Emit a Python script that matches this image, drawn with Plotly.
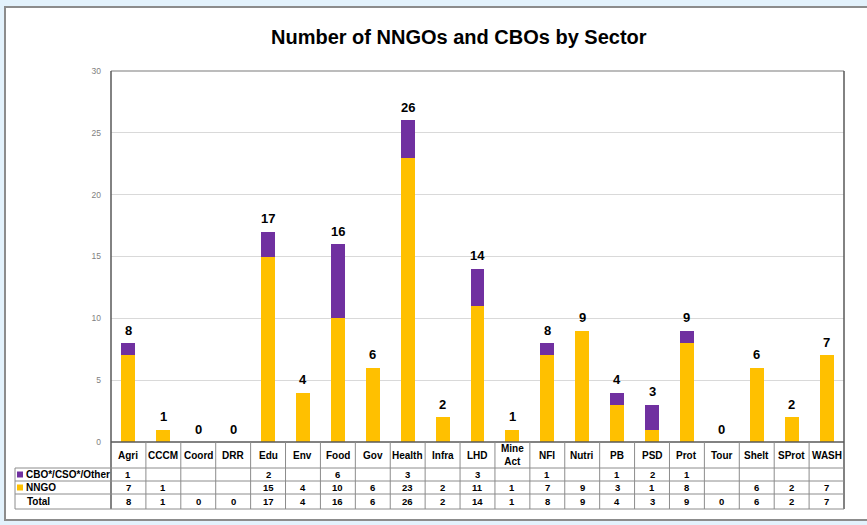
import plotly.graph_objects as go

categories = ["Agri", "CCCM", "Coord", "DRR", "Edu", "Env", "Food", "Gov", "Health", "Infra",
              "LHD", "Mine Act", "NFI", "Nutri", "PB", "PSD", "Prot", "Tour", "Shelt", "SProt", "WASH"]
cbo = [1, None, None, None, 2, None, 6, None, 3, None, 3, None, 1, None, 1, 2, 1, None, None, None, None]
nngo = [7, 1, None, None, 15, 4, 10, 6, 23, 2, 11, 1, 7, 9, 3, 1, 8, None, 6, 2, 7]
total = [8, 1, 0, 0, 17, 4, 16, 6, 26, 2, 14, 1, 8, 9, 4, 3, 9, 0, 6, 2, 7]
series_names = ["CBO*/CSO*/Other", "NNGO", "Total"]
y_ticks = [0, 5, 10, 15, 20, 25, 30]

PURPLE = "#7030A0"
YELLOW = "#FFC000"
FONT = "Liberation Sans, Arial, sans-serif"

W, H = 867, 525
L, R, T, B = 111, 844, 71, 442


def px2x(px):
    return (px - L) / (R - L)


def py2y(py):
    return (B - py) / (B - T)


def nz(v):
    return 0 if v is None else v


fig = go.Figure()
fig.add_trace(go.Bar(x=categories, y=[nz(v) for v in nngo], marker_color=YELLOW,
                     name=series_names[1], marker_line_width=0))
fig.add_trace(go.Bar(x=categories, y=[nz(v) for v in cbo], marker_color=PURPLE,
                     name=series_names[0], marker_line_width=0))

shapes = []
# outer white chart box
shapes.append(dict(type="rect", xref="paper", yref="paper", x0=px2x(5), x1=px2x(875),
                   y0=py2y(520), y1=py2y(7), fillcolor="white",
                   line=dict(color="#8C8C8C", width=2), layer="below"))

# plot borders
shapes.append(dict(type="line", xref="paper", yref="paper", x0=0, x1=1, y0=1, y1=1,
                   line=dict(color="#A6A6A6", width=1.5)))
shapes.append(dict(type="line", xref="paper", yref="paper", x0=1, x1=1, y0=py2y(509), y1=1,
                   line=dict(color="#595959", width=1.5)))
shapes.append(dict(type="line", xref="paper", yref="paper", x0=0, x1=0, y0=py2y(509), y1=1,
                   line=dict(color="#595959", width=1.5)))
shapes.append(dict(type="line", xref="paper", yref="paper", x0=0, x1=1, y0=0, y1=0,
                   line=dict(color="#595959", width=1.5)))

tline = dict(color="#8C8C8C", width=1)
row_lines = [468, 481, 494, 509]
for py in row_lines:
    shapes.append(dict(type="line", xref="paper", yref="paper", x0=px2x(15), x1=1,
                       y0=py2y(py), y1=py2y(py), line=tline))
shapes.append(dict(type="line", xref="paper", yref="paper", x0=px2x(15), x1=px2x(15),
                   y0=py2y(509), y1=py2y(468), line=tline))
for i in range(1, len(categories)):
    shapes.append(dict(type="line", xref="x", yref="paper", x0=i - 0.5, x1=i - 0.5,
                       y0=py2y(509), y1=0, line=tline))
# legend keys
shapes.append(dict(type="rect", xref="paper", yref="paper", x0=px2x(17), x1=px2x(23),
                   y0=py2y(477.5), y1=py2y(471.5), fillcolor=PURPLE, line_width=0))
shapes.append(dict(type="rect", xref="paper", yref="paper", x0=px2x(17), x1=px2x(23),
                   y0=py2y(490.5), y1=py2y(484.5), fillcolor=YELLOW, line_width=0))

annotations = []
annotations.append(dict(text="<b>Number of NNGOs and CBOs by Sector</b>", xref="paper", yref="paper",
                        x=px2x(459), y=py2y(37), showarrow=False, xanchor="center", yanchor="middle",
                        font=dict(family=FONT, size=20, color="black")))
# total labels above bars
for i, c in enumerate(categories):
    annotations.append(dict(text="<b>%d</b>" % total[i], xref="x", yref="y", x=c, y=total[i],
                            yshift=13, showarrow=False, xanchor="center", yanchor="middle",
                            font=dict(family=FONT, size=13, color="black")))
head_font = dict(family=FONT, size=10, color="black")
cell_font = dict(family=FONT, size=9.5, color="black")
legend_font = dict(family=FONT, size=10, color="black")
for i, c in enumerate(categories):
    annotations.append(dict(text="<b>" + c.replace(" ", "<br>") + "</b>", xref="x", yref="paper",
                            x=i, y=py2y(455.5), showarrow=False, xanchor="center", yanchor="middle",
                            font=head_font))
    for val, py in ((cbo[i], 474.5), (nngo[i], 487.5), (total[i], 501.5)):
        if val is not None:
            annotations.append(dict(text="<b>%d</b>" % val, xref="x", yref="paper", x=i, y=py2y(py),
                                    showarrow=False, xanchor="center", yanchor="middle", font=cell_font))
for name, px, py in ((series_names[0], 24, 474.5), (series_names[1], 24, 487.5), (series_names[2], 25, 501.5)):
    annotations.append(dict(text="<b>" + name + "</b>", xref="paper", yref="paper", x=px2x(px), y=py2y(py),
                            showarrow=False, xanchor="left", yanchor="middle", font=legend_font))

fig.update_layout(
    width=W, height=H,
    margin=dict(l=L, r=W - R, t=T, b=H - B, pad=0),
    paper_bgcolor="#E3F2FC",
    plot_bgcolor="white",
    barmode="stack",
    bargap=0.6,
    showlegend=False,
    font=dict(family=FONT),
    shapes=shapes,
    annotations=annotations,
    xaxis=dict(type="category", categoryorder="array", categoryarray=categories,
               range=[-0.5, len(categories) - 0.5], showticklabels=False, showgrid=False,
               zeroline=False, showline=False, ticks=""),
    yaxis=dict(range=[0, 30], tickvals=y_ticks, showgrid=True, gridcolor="#D9D9D9", gridwidth=1,
               zeroline=False, showline=False, ticks="", ticklabelstandoff=9,
               tickfont=dict(family=FONT, size=8.5, color="#7F7F7F")),
)

fig.write_html("out.html", config={"displayModeBar": False},
               post_script="document.body.style.margin='0';")
